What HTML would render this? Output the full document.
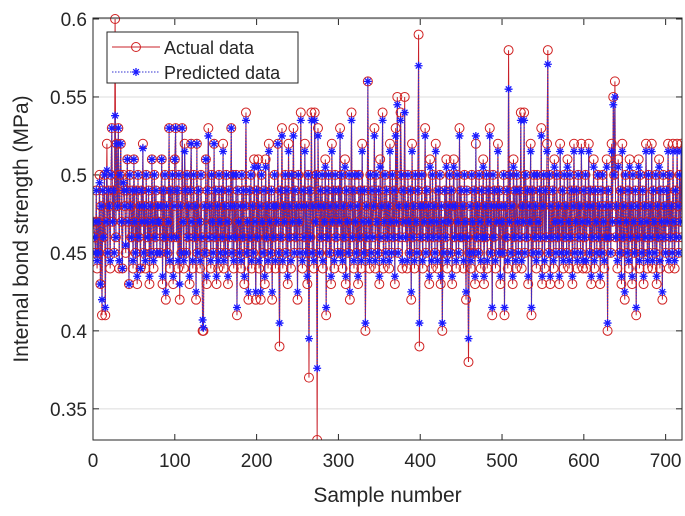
<!DOCTYPE html>
<html><head><meta charset="utf-8"><style>
html,body{margin:0;padding:0;background:#fff;width:685px;height:516px;overflow:hidden}
text{font-family:"Liberation Sans",sans-serif;fill:#262626}
</style></head><body>
<svg id="chart" width="685" height="516" xmlns="http://www.w3.org/2000/svg"></svg>
<script>
const actualData=[
47,46,45,49,44,47,45,50,43,48,41,49,46,50,41,47,52,45,49,48,
44,50,53,47,49,45,60,46,52,48,53,44,50,52,47,44,50,49,48,45,
49,51,47,43,50,48,46,49,44,51,47,45,49,43,50,46,48,44,49,47,
52,45,48,44,50,47,46,49,43,48,45,51,47,44,50,46,49,45,48,47,
47,45,48,51,43,49,46,50,42,48,45,47,53,44,49,46,50,43,48,51,
53,46,49,44,50,42,48,45,53,47,44,52,49,45,50,46,48,43,49,52,
47,44,50,46,48,42,52,45,49,47,44,50,46,40,40,48,45,51,43,49,
53,46,48,44,50,47,45,52,46,49,43,48,44,50,47,45,49,46,52,44,
48,45,50,47,43,49,46,48,53,45,50,44,48,46,50,41,49,47,45,48,
44,50,46,49,43,48,54,45,47,42,49,46,50,44,48,45,51,47,42,49,
46,51,44,48,42,50,47,45,49,43,51,46,48,44,52,47,45,49,42,48,
46,50,44,48,47,52,45,39,49,46,53,44,48,47,50,45,49,43,52,46,
48,44,50,47,53,45,49,46,48,42,50,47,45,54,48,44,49,46,52,45,
48,43,50,37,49,46,54,45,48,44,54,47,50,33,53,48,45,49,46,50,
44,48,47,51,41,49,46,50,45,48,43,52,47,49,44,50,46,48,45,49,
47,53,45,50,44,48,46,51,43,49,47,45,50,42,48,54,46,49,44,50,
47,45,48,43,50,46,49,44,52,47,45,49,40,48,46,56,47,44,50,45,
49,46,48,53,44,50,47,45,49,43,51,46,48,54,44,47,50,45,49,46,
48,44,52,47,45,50,46,49,43,53,47,55,45,48,46,54,50,44,49,47,
55,46,48,44,50,47,45,49,42,52,46,48,44,50,47,45,49,59,39,48,
46,50,44,48,47,53,45,49,46,48,43,51,47,44,50,46,48,45,52,47,
44,49,46,50,43,48,40,47,45,49,46,51,44,48,47,50,45,49,43,48,
51,46,48,44,50,47,45,53,46,49,46,48,44,50,47,42,49,46,38,45,
48,44,50,47,45,49,43,52,46,48,45,50,47,44,49,46,51,43,48,46,
50,44,49,47,53,45,48,41,50,46,49,44,48,47,52,45,49,43,48,47,
45,50,41,48,46,49,44,58,47,50,45,48,43,51,46,49,44,50,47,45,
49,46,54,44,48,47,54,45,50,46,49,43,48,47,52,41,49,45,50,46,
48,44,50,47,45,49,46,53,43,48,50,44,49,46,52,58,45,50,43,48,
46,49,44,51,47,45,50,46,48,43,52,47,45,49,44,50,46,48,45,51,
47,44,50,46,49,43,48,52,45,47,49,44,50,46,48,45,52,47,44,49,
46,50,44,48,47,52,45,49,43,48,46,51,44,49,47,45,50,46,48,43,
49,45,50,47,44,48,46,51,40,49,46,48,45,52,47,55,50,56,46,48,
44,51,47,45,49,43,52,46,48,42,50,47,45,49,44,51,46,48,43,50,
47,45,49,41,48,46,51,44,50,47,45,49,43,48,46,52,47,44,50,45,
48,46,52,44,49,47,45,50,43,48,46,51,44,49,47,42,50,46,48,45,
49,47,52,44,50,46,48,45,52,47,44,49,46,52,48,45,50,47,52,46];
const predictedData=[
47,46,45,49,44.5,47,45,49.5,43,48,42,49,46,50,41.5,47,50.3,45,49,48,
44.5,50,53,47,49,45,53.8,46,52,48,53,44.5,50,52,47,44,49.5,49,48,45.5,
49,51,47,43,50,48,46,49,44.5,51,47,45,49,43.5,50,46,48,44,49,47,
51.7,45,48,44.5,50,47,46,49,43.5,48,45,51,47,44.5,50,46,49,45,48,47,
47,45,48,51,43.5,49,46,50,42.5,48,45,47,53,44.5,49,46,50,43.5,48,51,
53,46,49,44.5,50,43,48,45,53,47,44.5,51.5,49,45,50,46,48,43.5,49,52,
47,44.5,50,46,48,42.5,52,45,49,47,44.5,50,46,40.7,40.2,48,45,51,43.5,49,
52.5,46,48,44.5,50,47,45,52,46,49,43.5,48,44.5,50,47,45,49,46,51.5,44.5,
48,45,50,47,43.5,49,46,48,53,45,50,44.5,48,46,50,41.5,49,47,45,48,
44.5,50,46,49,43.5,48,53.5,45,47,42.5,49,46,50,44.5,48,45,50.5,47,42.5,49,
46,50.5,44.5,48,42.5,50,47,45,49,43.5,50.5,46,48,44.5,51.5,47,45,49,42.5,48,
46,50,44.5,48,47,52,45,40.5,49,46,52.5,44.5,48,47,50,45,49,43.5,51.5,46,
48,44.5,50,47,52.5,45,49,46,48,42.5,50,47,45,53.5,48,44.5,49,46,51.5,45,
48,43.5,50,39.5,49,46,53.5,45,48,44.5,53.5,47,50,37.6,52.5,48,45,49,46,50,
44.5,48,47,50.5,41.5,49,46,50,45,48,43.5,51.5,47,49,44.5,50,46,48,45,49,
47,52.5,45,50,44.5,48,46,50.5,43.5,49,47,45,50,42.5,48,53.5,46,49,44.5,50,
47,45,48,43.5,50,46,49,44.5,51.5,47,45,49,40.5,48,46,56,47,44.5,50,45,
49,46,48,52.5,44.5,50,47,45,49,43.5,50.5,46,48,53.5,44.5,47,50,45,49,46,
48,44.5,51.5,47,45,50,46,49,43.5,52.5,47,54.5,45,48,46,53.5,50,44.5,49,47,
54,46,48,44.5,50,47,45,49,42.5,51.5,46,48,44.5,50,47,45,49,57,40.5,48,
46,50,44.5,48,47,52.5,45,49,46,48,43.5,50.5,47,44.5,50,46,48,45,51.5,47,
44.5,49,46,50,43.5,48,40.5,47,45,49,46,50.5,44.5,48,47,50,45,49,43.5,48,
50.5,46,48,44.5,50,47,45,52.5,46,49,46,48,44.5,50,47,42.5,49,46,39.5,45,
48,44.5,50,47,45,49,43.5,52.5,46,48,45,50,47,44.5,49,46,50.5,43.5,48,46,
50,44.5,49,47,52.5,45,48,41.5,50,46,49,44.5,48,47,51.5,45,49,43.5,48,47,
45,50,41.5,48,46,49,44.5,55.5,47,50,45,48,43.5,50.5,46,49,44.5,50,47,45,
49,46,53.5,44.5,48,47,53.5,45,50,46,49,43.5,48,47,51.5,41.5,49,45,50,46,
48,44.5,50,47,45,49,46,52.5,43.5,48,50,44.5,49,46,51.5,57.1,45,50,43.5,48,
46,49,44.5,50.5,47,45,50,46,48,43.5,51.5,47,45,49,44.5,50,46,48,45,50.5,
47,44.5,50,46,49,43.5,48,51.5,45,47,49,44.5,50,46,48,45,51.5,47,44.5,49,
46,50,44.5,48,47,51.5,45,49,43.5,48,46,50.5,44.5,49,47,45,50,46,48,43.5,
49,45,50,47,44.5,48,46,50.5,40.5,49,46,48,45,51.5,47,54.5,50,55,46,48,
44.5,50.5,47,45,49,43.5,51.5,46,48,42.5,50,47,45,49,44.5,50.5,46,48,43.5,50,
47,45,49,41.5,48,46,50.5,44.5,50,47,45,49,43.5,48,46,51.5,47,44.5,50,45,
48,46,51.5,44.5,49,47,45,50,43.5,48,46,50.5,44.5,49,47,42.5,50,46,48,45,
49,47,51.5,44.5,50,46,48,45,51.5,47,44.5,49,46,51.5,48,45,50,47,51.5,46];
const xTicks=[0,100,200,300,400,500,600,700];
const yTicks=[0.35,0.4,0.45,0.5,0.55,0.6];
const yTickLabels=["0.35","0.4","0.45","0.5","0.55","0.6"];

const NS="http://www.w3.org/2000/svg";
const svg=document.getElementById('chart');
const L=93,R=682,T=19,B=440,XMIN=0,XMAX=720,YMIN=0.33,YMAX=0.6;
function xs(v){return L+(v-XMIN)/(XMAX-XMIN)*(R-L);}
function ys(v){return B-(v-YMIN)/(YMAX-YMIN)*(B-T);}
function mk(tag,attrs,parent){const e=document.createElementNS(NS,tag);for(const k in attrs)e.setAttribute(k,attrs[k]);(parent||svg).appendChild(e);return e;}

const bg=mk('rect',{x:L,y:T-1,width:R-L,height:B-T+1,fill:'#fff'});



yTicks.forEach((v,i)=>{
  const g=mk('line',{x1:L,x2:R,y1:ys(v),y2:ys(v),stroke:'#dcdcdc','stroke-width':1});
  
  
  const t=mk('line',{x1:L,x2:L+6,y1:ys(v),y2:ys(v),stroke:'#262626'});
  
  
  const t2=mk('line',{x1:R-6,x2:R,y1:ys(v),y2:ys(v),stroke:'#262626'});
  
  
  const lb=mk('text',{x:L-6,y:ys(v)+7,'text-anchor':'end','font-size':19});
  lb.textContent=yTickLabels[i];
  
  
});
xTicks.forEach(v=>{
  const t=mk('line',{x1:xs(v),x2:xs(v),y1:B,y2:B-6,stroke:'#262626'});
  
  
  const t2=mk('line',{x1:xs(v),x2:xs(v),y1:T,y2:T+6,stroke:'#262626'});
  
  
  const lb=mk('text',{x:xs(v),y:B+27,'text-anchor':'middle','font-size':19});
  lb.textContent=String(v);
  
  
});

const clip=mk('clipPath',{id:'pc'});
mk('rect',{x:L,y:T-8,width:R-L,height:B-T+8},clip);
const plot=mk('g',{'clip-path':'url(#pc)'});



let pa=actualData.map((v,i)=>(i?'L':'M')+xs(i+1).toFixed(2)+' '+ys(v/100).toFixed(2)).join('');
const aLine=mk('path',{d:pa,fill:'none',stroke:'#c8202a','stroke-width':1},plot);


let pp=predictedData.map((v,i)=>(i?'L':'M')+xs(i+1).toFixed(2)+' '+ys(v/100).toFixed(2)).join('');
const pLine=mk('path',{d:pp,fill:'none',stroke:'#3030d0','stroke-width':1,'stroke-dasharray':'1.5 1.5'},plot);



actualData.forEach((v,i)=>{
  const c=mk('circle',{cx:xs(i+1),cy:ys(v/100),r:4.5,fill:'none',stroke:'#d02020','stroke-width':1},plot);
  
  
});
function star(x,y,s){return `M${x-s} ${y}H${x+s}M${x} ${y-s}V${y+s}M${x-s*0.7} ${y-s*0.7}L${x+s*0.7} ${y+s*0.7}M${x-s*0.7} ${y+s*0.7}L${x+s*0.7} ${y-s*0.7}`;}
predictedData.forEach((v,i)=>{
  const s=mk('path',{d:star(xs(i+1),ys(v/100),4),stroke:'#1a1aff','stroke-width':1.3,fill:'none'},plot);
  
  
});

const frame=mk('rect',{x:L,y:T-1,width:R-L,height:B-T+1,fill:'none',stroke:'#262626','stroke-width':1});



const lg=mk('g',{});


mk('rect',{x:107,y:32,width:191,height:51,fill:'#fff',stroke:'#262626','stroke-width':1},lg);
const e1=mk('g',{},lg);


mk('line',{x1:112,x2:160,y1:47,y2:47,stroke:'#c8202a','stroke-width':1},e1);
mk('circle',{cx:136,cy:47,r:4.5,fill:'none',stroke:'#d02020'},e1);
const t1=mk('text',{x:164,y:54,'font-size':18},e1);t1.textContent='Actual data';
const e2=mk('g',{},lg);


mk('line',{x1:112,x2:160,y1:72,y2:72,stroke:'#3030d0','stroke-dasharray':'1.5 1.5'},e2);
mk('path',{d:star(136,72,4),stroke:'#1a1aff','stroke-width':1.3},e2);
const t2=mk('text',{x:164,y:79,'font-size':18},e2);t2.textContent='Predicted data';

const xl=mk('text',{x:(L+R)/2,y:502,'text-anchor':'middle','font-size':21});
xl.textContent='Sample number';


const yl=mk('text',{x:0,y:0,'text-anchor':'middle','font-size':21,transform:'translate(28 229) rotate(-90)'});
yl.textContent='Internal bond strength (MPa)';


</script>
</body></html>
